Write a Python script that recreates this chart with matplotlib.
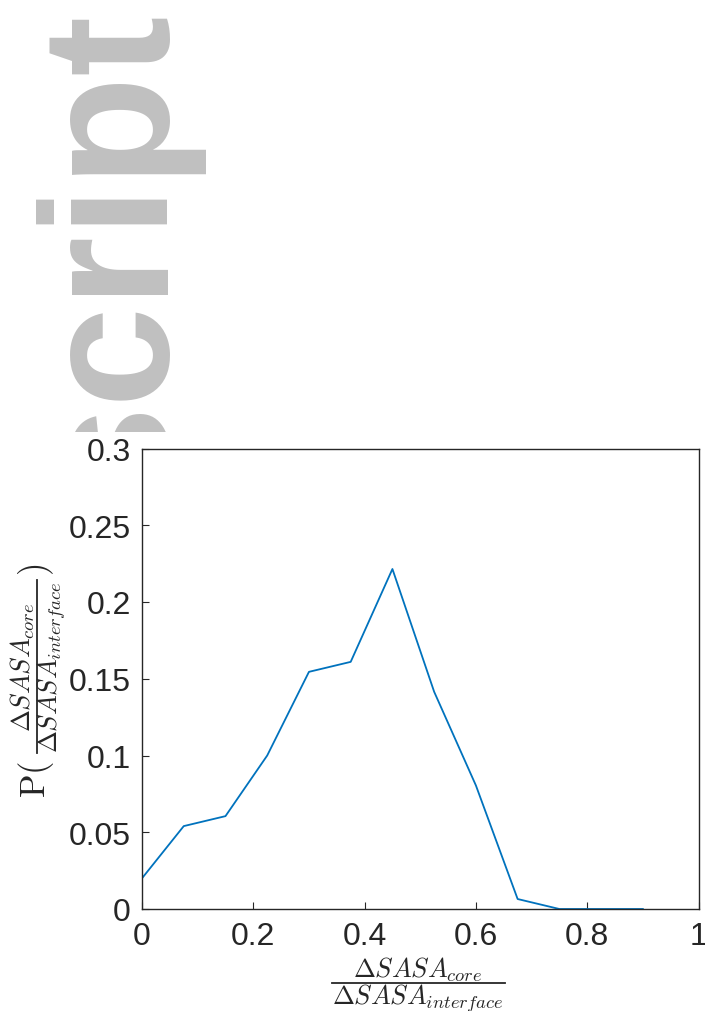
import matplotlib
matplotlib.use("Agg")
import matplotlib.pyplot as plt
from matplotlib.patches import Rectangle
from matplotlib.lines import Line2D

plt.rcParams['mathtext.fontset'] = 'cm'
plt.rcParams['font.family'] = ['Liberation Sans', 'DejaVu Sans']

# ratio bins and probabilities
ratio = [0, 0.075, 0.15, 0.225, 0.3, 0.375, 0.45, 0.525, 0.6, 0.675, 0.75, 0.825, 0.9]
prob = [0.020, 0.054, 0.0605, 0.100, 0.1545, 0.161, 0.2215, 0.1415, 0.0805, 0.0065, 0.0, 0.0, 0.0]

xticks = [0, 0.2, 0.4, 0.6, 0.8, 1]
xticklabels = ['0', '0.2', '0.4', '0.6', '0.8', '1']
yticks = [0, 0.05, 0.1, 0.15, 0.2, 0.25, 0.3]
yticklabels = ['0', '0.05', '0.1', '0.15', '0.2', '0.25', '0.3']

num_tex = r'$\Delta SASA_{core}$'
den_tex = r'$\Delta SASA_{interface}$'

W, H = 705, 1012
fig = plt.figure(figsize=(W / 100, H / 100), dpi=100)
ink = '#262626'


def fx(px):
    return px / W


def fy(py):
    return 1 - py / H


def fraction(cx, cy, rot, size=19, half=86.5):
    # stacked fraction: numerator, bar, denominator (pixel positions)
    if rot == 0:
        fig.text(fx(cx), fy(cy - 6), num_tex, ha='center', va='baseline', fontsize=size, color=ink)
        fig.text(fx(cx), fy(cy + 21), den_tex, ha='center', va='baseline', fontsize=size, color=ink)
        fig.add_artist(Line2D([fx(cx - half), fx(cx + half)], [fy(cy), fy(cy)],
                              transform=fig.transFigure, color=ink, lw=1.3))
    else:
        fig.text(fx(cx - 6), fy(cy), num_tex, ha='center', va='baseline', fontsize=size,
                 color=ink, rotation=90, rotation_mode='anchor')
        fig.text(fx(cx + 21), fy(cy), den_tex, ha='center', va='baseline', fontsize=size,
                 color=ink, rotation=90, rotation_mode='anchor')
        fig.add_artist(Line2D([fx(cx), fx(cx)], [fy(cy - half), fy(cy + half)],
                              transform=fig.transFigure, color=ink, lw=1.3))


# gray watermark text in the upper part of the page
wm = fig.text(fx(163), fy(9), 'script', rotation=90, rotation_mode='anchor',
              ha='right', va='baseline', fontsize=130, fontweight='bold',
              color='#c0c0c0', family='Liberation Sans')
wm.set_clip_path(Rectangle((0, fy(433)), 1, 433 / H, transform=fig.transFigure))

ax = fig.add_axes([fx(142), fy(910), (698.5 - 142) / W, (910 - 449.5) / H])
ax.plot(ratio, prob, color='#0072BD', lw=1.3)

ax.set_xlim(0, 1)
ax.set_ylim(0, 0.3)
ax.set_xticks(xticks)
ax.set_xticklabels(xticklabels)
ax.set_yticks(yticks)
ax.set_yticklabels(yticklabels)
ax.tick_params(direction='in', length=5, width=0.8, color=ink,
               labelcolor=ink, labelsize=23, pad=8)
ax.tick_params(axis='x', pad=9)
for s in ax.spines.values():
    s.set_color(ink)
    s.set_linewidth(1.0)

# x label
fraction(418, 983.5, 0)

# y label: P( fraction )
fraction(36.5, 667, 90)
fig.text(fx(45), fy(761), r'$\mathrm{P}($', rotation=90, rotation_mode='anchor',
         ha='right', va='baseline', fontsize=25, color=ink)
fig.text(fx(45), fy(576), r'$)$', rotation=90, rotation_mode='anchor',
         ha='left', va='baseline', fontsize=25, color=ink)

fig.savefig('out.png', dpi=100)
